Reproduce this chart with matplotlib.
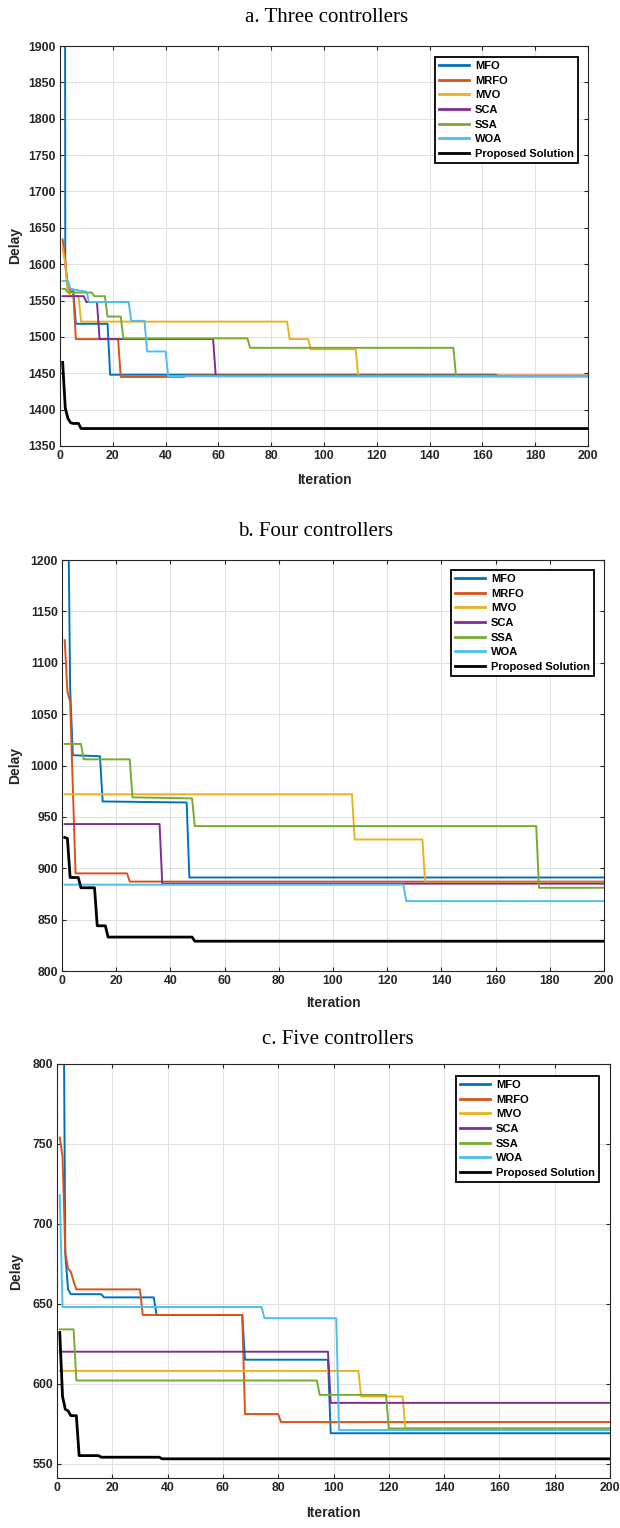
'''
Convergence curves of delay vs iteration for three controller counts
'''

import matplotlib
matplotlib.use("Agg")
import matplotlib.pyplot as plt

names = ["MFO", "MRFO", "MVO", "SCA", "SSA", "WOA", "Proposed Solution"]
colors = ["#0072BD", "#D95319", "#EDB120", "#7E2F8E", "#77AC30", "#4DBEEE", "black"]

# ---- a. Three controllers ----
a_mfo_x = [1, 2, 3, 5, 6, 18, 19, 165, 166, 200]
a_mfo_y = [6000, 1600, 1565, 1565, 1518, 1518, 1448, 1448, 1446, 1446]
a_mrfo_x = [1, 2, 3, 4, 5, 6, 22, 23, 47, 48, 200]
a_mrfo_y = [1634, 1605, 1568, 1562, 1562, 1497, 1497, 1445, 1445, 1447, 1447]
a_mvo_x = [1, 2, 3, 4, 7, 8, 86, 87, 94, 95, 112, 113, 200]
a_mvo_y = [1622, 1600, 1565, 1556, 1556, 1521, 1521, 1497, 1497, 1483, 1483, 1446, 1446]
a_sca_x = [1, 9, 10, 14, 15, 58, 59, 200]
a_sca_y = [1556, 1556, 1548, 1548, 1497, 1497, 1446, 1446]
a_ssa_x = [1, 2, 3, 12, 13, 17, 18, 23, 24, 71, 72, 149, 150, 200]
a_ssa_y = [1566, 1566, 1561, 1561, 1556, 1556, 1528, 1528, 1498, 1498, 1485, 1485, 1446, 1446]
a_woa_x = [1, 3, 4, 10, 11, 26, 27, 32, 33, 40, 41, 200]
a_woa_y = [1577, 1577, 1566, 1562, 1548, 1548, 1522, 1522, 1480, 1480, 1446, 1446]
a_prop_x = [1, 2, 3, 4, 5, 7, 8, 200]
a_prop_y = [1465, 1402, 1388, 1382, 1381, 1381, 1374, 1374]

# ---- b. Four controllers ----
b_mfo_x = [1, 2, 3, 4, 14, 15, 46, 47, 200]
b_mfo_y = [5000, 1330, 1075, 1010, 1009, 965, 964, 891, 891]
b_mrfo_x = [1, 2, 3, 5, 24, 25, 200]
b_mrfo_y = [1122, 1072, 1062, 895, 895, 887, 887]
b_mvo_x = [1, 107, 108, 133, 134, 200]
b_mvo_y = [972, 972, 928, 928, 886, 886]
b_sca_x = [1, 36, 37, 200]
b_sca_y = [943, 943, 885, 885]
b_ssa_x = [1, 7, 8, 25, 26, 48, 49, 175, 176, 200]
b_ssa_y = [1021, 1021, 1006, 1006, 969, 968, 941, 941, 881, 881]
b_woa_x = [1, 126, 127, 200]
b_woa_y = [884, 884, 868, 868]
b_prop_x = [1, 2, 3, 6, 7, 12, 13, 16, 17, 48, 49, 200]
b_prop_y = [930, 929, 891, 891, 881, 881, 844, 844, 833, 833, 829, 829]

# ---- c. Five controllers ----
c_mfo_x = [1, 2, 3, 4, 5, 16, 17, 35, 36, 67, 68, 98, 99, 200]
c_mfo_y = [3000, 950, 681, 659, 656, 656, 654, 654, 643, 643, 615, 615, 569, 569]
c_mrfo_x = [1, 2, 3, 4, 5, 6, 7, 30, 31, 67, 68, 80, 81, 200]
c_mrfo_y = [754, 742, 682, 672, 670, 664, 659, 659, 643, 643, 581, 581, 576, 576]
c_mvo_x = [1, 109, 110, 125, 126, 200]
c_mvo_y = [608, 608, 592, 592, 572, 572]
c_sca_x = [1, 98, 99, 200]
c_sca_y = [620, 620, 588, 588]
c_ssa_x = [1, 6, 7, 94, 95, 119, 120, 200]
c_ssa_y = [634, 634, 602, 602, 593, 593, 572, 572]
c_woa_x = [1, 2, 74, 75, 101, 102, 200]
c_woa_y = [718, 648, 648, 641, 641, 571, 571]
c_prop_x = [1, 2, 3, 4, 5, 7, 8, 15, 16, 37, 38, 200]
c_prop_y = [632, 592, 584, 583, 580, 580, 555, 555, 554, 554, 553, 553]

panels = [
    {
        "title": "a. Three controllers",
        "series": [(a_mfo_x, a_mfo_y), (a_mrfo_x, a_mrfo_y), (a_mvo_x, a_mvo_y),
                   (a_sca_x, a_sca_y), (a_ssa_x, a_ssa_y), (a_woa_x, a_woa_y),
                   (a_prop_x, a_prop_y)],
        "ylim": (1350, 1900), "yticks": list(range(1350, 1901, 50)),
        "box": (60, 588, 46, 446), "title_xy": (327, 18),
        "leg": (578, 57), "ylab_x": 22, "xlab_y": 473,
    },
    {
        "title": "b. Four controllers",
        "series": [(b_mfo_x, b_mfo_y), (b_mrfo_x, b_mrfo_y), (b_mvo_x, b_mvo_y),
                   (b_sca_x, b_sca_y), (b_ssa_x, b_ssa_y), (b_woa_x, b_woa_y),
                   (b_prop_x, b_prop_y)],
        "ylim": (800, 1200), "yticks": list(range(800, 1201, 50)),
        "box": (62, 604, 560, 971), "title_xy": (316, 532),
        "leg": (594, 570), "ylab_x": 22, "xlab_y": 996,
    },
    {
        "title": "c. Five controllers",
        "series": [(c_mfo_x, c_mfo_y), (c_mrfo_x, c_mrfo_y), (c_mvo_x, c_mvo_y),
                   (c_sca_x, c_sca_y), (c_ssa_x, c_ssa_y), (c_woa_x, c_woa_y),
                   (c_prop_x, c_prop_y)],
        "ylim": (541, 800), "yticks": list(range(550, 801, 50)),
        "box": (57, 610, 1064, 1478), "title_xy": (338, 1040),
        "leg": (599, 1076), "ylab_x": 23, "xlab_y": 1506,
    },
]

W, H = 620, 1528
fig = plt.figure(figsize=(W / 100, H / 100), dpi=100)

sans = "Liberation Sans"
for p in panels:
    l, r, t, b = p["box"]
    ax = fig.add_axes([l / W, 1 - b / H, (r - l) / W, (b - t) / H])
    for i, (xs, ys) in enumerate(p["series"]):
        lw = 2.0 if i == 6 else 1.4
        ax.plot(xs, ys, color=colors[i], lw=lw, label=names[i])
    ax.set_xlim(0, 200)
    ax.set_ylim(*p["ylim"])
    ax.set_xticks(range(0, 201, 20))
    ax.set_yticks(p["yticks"])
    ax.grid(True, color="#e0e0e0", lw=0.7)
    ax.set_axisbelow(True)
    ax.tick_params(direction="in", length=3, top=True, right=True,
                   colors="#262626", labelsize=8.8, pad=3)
    for lab in ax.get_xticklabels() + ax.get_yticklabels():
        lab.set_fontfamily(sans)
        lab.set_fontweight("bold")
    for s in ax.spines.values():
        s.set_color("#262626")
        s.set_linewidth(0.8)

    ax.set_xlabel("Iteration", fontsize=10, fontweight="bold", family=sans, color="#262626")
    ax.set_ylabel("Delay", fontsize=10, fontweight="bold", family=sans, color="#262626")
    ax.xaxis.set_label_coords(0.5, (b - p["xlab_y"]) / (b - t))
    ax.yaxis.set_label_coords((p["ylab_x"] - l) / (r - l), 0.5)

    lx, ly = p["leg"]
    leg = ax.legend(loc="upper right",
                    bbox_to_anchor=((lx - l) / (r - l), (b - ly) / (b - t)),
                    borderaxespad=0, fancybox=False, framealpha=1,
                    prop={"family": sans, "weight": "bold", "size": 8},
                    handlelength=2.7, handletextpad=0.55, labelspacing=0.42,
                    borderpad=0.35)
    leg.get_frame().set_edgecolor("black")
    leg.get_frame().set_linewidth(1.3)
    for h in leg.get_lines():
        h.set_linewidth(2.0)

    tx, ty = p["title_xy"]
    fig.text(tx / W, 1 - ty / H, p["title"], ha="center", va="center",
             family="Liberation Serif", fontsize=15)

fig.savefig("out.png", dpi=100)
